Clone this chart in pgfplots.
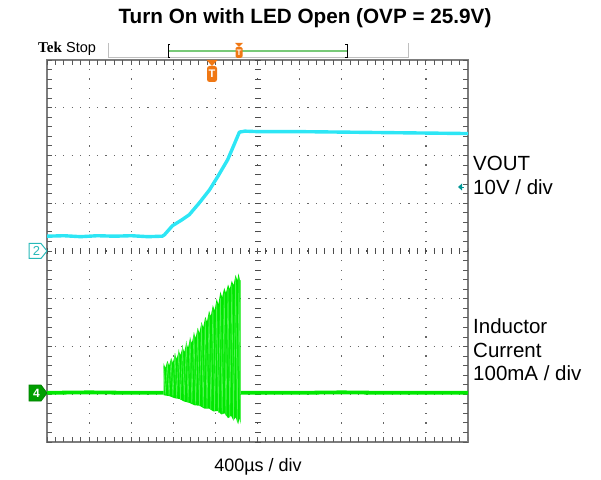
\documentclass[border=0pt]{standalone}
\usepackage{pgfplots}
\pgfplotsset{compat=1.18}
\usepackage{fontspec}
\setmainfont{Liberation Sans}
\newfontfamily\tekfont{Liberation Serif}
\definecolor{scopecyan}{RGB}{45,230,245}
\definecolor{scopegreen}{RGB}{0,232,0}
\definecolor{scopegreenL}{RGB}{80,245,80}
\definecolor{scopeorange}{RGB}{240,120,20}
\definecolor{bordergray}{RGB}{125,125,125}
\definecolor{refteal}{RGB}{0,150,150}
\definecolor{ch2teal}{RGB}{40,185,185}
\begin{document}
\begin{tikzpicture}[x=1pt,y=1pt]
\path (0,0) rectangle (601,479);
\begin{axis}[at={(47pt,37pt)}, anchor=south west, scale only axis,
  width=421pt, height=382pt,
  xmin=-5, xmax=5, ymin=-4, ymax=4,
  axis line style={draw=bordergray, line width=2.8pt},
  ticks=none,
  clip=true]
% grid dots
\pgfplotsinvokeforeach{-4,-3,-2,-1,1,2,3,4}{
  \draw[black!60, line width=1.2pt, dash pattern=on 1.2pt off 8.35pt, dash phase=0.6pt]
    (axis cs:#1,-4) -- (axis cs:#1,4);
}
\pgfplotsinvokeforeach{-3,-2,-1,1,2,3}{
  \draw[black!60, line width=1.2pt, dash pattern=on 1.2pt off 7.22pt, dash phase=0.6pt]
    (axis cs:-5,#1) -- (axis cs:5,#1);
}
% border ticks (inward)
\draw[black!65, line width=5pt, dash pattern=on 0.9pt off 7.52pt, dash phase=0.45pt] ([yshift=-2.5pt]axis cs:-5,4) -- ([yshift=-2.5pt]axis cs:5,4);
\draw[black!65, line width=5pt, dash pattern=on 0.9pt off 7.52pt, dash phase=0.45pt] ([yshift=2.5pt]axis cs:-5,-4) -- ([yshift=2.5pt]axis cs:5,-4);
\draw[black!65, line width=5pt, dash pattern=on 0.9pt off 8.65pt, dash phase=0.45pt] ([xshift=-2.5pt]axis cs:5,-4) -- ([xshift=-2.5pt]axis cs:5,4);
\draw[black!65, line width=5pt, dash pattern=on 0.9pt off 8.65pt, dash phase=0.45pt] ([xshift=2.5pt]axis cs:-5,-4) -- ([xshift=2.5pt]axis cs:-5,4);
% center crosshair with ticks
\draw[black!70, line width=1.2pt, dash pattern=on 1.2pt off 7.22pt, dash phase=0.6pt] (axis cs:-5,0) -- (axis cs:5,0);
\draw[black!70, line width=1.2pt, dash pattern=on 1.2pt off 8.35pt, dash phase=0.6pt] (axis cs:0,-4) -- (axis cs:0,4);
\draw[black!70, line width=6pt, dash pattern=on 0.9pt off 7.52pt, dash phase=0.45pt] (axis cs:-5,0) -- (axis cs:5,0);
\draw[black!70, line width=6pt, dash pattern=on 0.9pt off 8.65pt, dash phase=0.45pt] (axis cs:0,-4) -- (axis cs:0,4);

% VOUT trace (CH2)
\addplot[scopecyan, line width=3.4pt, line join=round] coordinates {
(-5,0.31) (-4.6,0.32) (-4.2,0.30) (-3.8,0.32) (-3.4,0.31) (-3.0,0.32) (-2.6,0.30) (-2.26,0.31)
(-2.21,0.34) (-2.10,0.45) (-2.02,0.53) (-1.80,0.65) (-1.62,0.76) (-1.38,1.01) (-1.14,1.28)
(-0.95,1.55) (-0.71,1.91) (-0.55,2.24) (-0.43,2.49) (-0.30,2.51) (0,2.50) (1,2.50) (2,2.49)
(3,2.48) (4,2.47) (5,2.46)
};

% Inductor current (CH4) baseline
\addplot[scopegreen, line width=3.8pt] coordinates {
(-5,-2.97) (-4,-2.96) (-3,-2.97) (-2.23,-2.97)
};
\addplot[scopegreen, line width=3.8pt] coordinates {
(-0.40,-2.97) (1,-2.97) (2,-2.96) (3,-2.97) (5,-2.97)
};
% burst envelope
\addplot[draw=none, fill=scopegreen] coordinates {
(-2.23,-2.97) (-2.23,-2.35) (-2.19,-2.45) (-2.14,-2.30) (-2.10,-2.40) (-2.05,-2.24) (-2.01,-2.34)
(-1.96,-2.16) (-1.92,-2.26) (-1.87,-2.09) (-1.83,-2.18) (-1.78,-2.01) (-1.74,-2.12) (-1.69,-1.92)
(-1.65,-2.03) (-1.60,-1.82) (-1.56,-1.93) (-1.51,-1.72) (-1.47,-1.82) (-1.42,-1.61) (-1.38,-1.72)
(-1.33,-1.49) (-1.29,-1.60) (-1.24,-1.38) (-1.20,-1.48) (-1.15,-1.25) (-1.11,-1.37) (-1.06,-1.13)
(-1.02,-1.25) (-0.97,-1.00) (-0.93,-1.12) (-0.88,-0.85) (-0.84,-0.97) (-0.79,-0.77) (-0.75,-0.88)
(-0.70,-0.70) (-0.66,-0.80) (-0.61,-0.62) (-0.57,-0.72) (-0.52,-0.50) (-0.48,-0.62) (-0.45,-0.47)
(-0.42,-0.60) (-0.40,-0.62)
(-0.40,-3.62) (-0.43,-3.50) (-0.46,-3.63) (-0.52,-3.48) (-0.57,-3.55) (-0.63,-3.45) (-0.70,-3.50)
(-0.78,-3.40) (-0.86,-3.42) (-0.95,-3.35) (-1.05,-3.36) (-1.15,-3.30) (-1.26,-3.30) (-1.38,-3.24)
(-1.50,-3.23) (-1.62,-3.18) (-1.75,-3.15) (-1.85,-3.10) (-1.98,-3.08) (-2.09,-3.04) (-2.23,-3.02)
} -- cycle;
% burst oscillation streaks
\addplot[scopegreenL, line width=0.6pt] coordinates {
(-2.23,-2.40) (-2.19,-3.00) (-2.14,-2.34) (-2.10,-3.03) (-2.05,-2.26) (-2.01,-3.05)
(-1.96,-2.14) (-1.92,-3.08) (-1.87,-2.06) (-1.83,-3.11) (-1.78,-1.97) (-1.74,-3.13)
(-1.69,-1.88) (-1.65,-3.16) (-1.60,-1.80) (-1.56,-3.19) (-1.51,-1.70) (-1.47,-3.21)
(-1.42,-1.62) (-1.38,-3.25) (-1.33,-1.52) (-1.29,-3.27) (-1.24,-1.42) (-1.20,-3.29)
(-1.15,-1.31) (-1.11,-3.32) (-1.06,-1.20) (-1.02,-3.35) (-0.97,-1.09) (-0.93,-3.39)
(-0.88,-0.99) (-0.84,-3.42) (-0.79,-0.89) (-0.75,-3.45) (-0.70,-0.80) (-0.66,-3.49)
(-0.61,-0.70) (-0.57,-3.54) (-0.52,-0.56) (-0.48,-3.58) (-0.44,-0.55) (-0.41,-3.58)
};
\end{axis}

% title
\node[font=\fontsize{20.7}{24}\selectfont\bfseries] at (305,461) {Turn On with LED Open (OVP = 25.9V)};

% Tek Stop
\node[anchor=base west, inner sep=0pt, font=\tekfont\fontsize{15}{17}\selectfont\bfseries] at (38,426.5) {Tek};
\node[anchor=base west, inner sep=0pt, font=\fontsize{14.5}{17}\selectfont] at (66,426.5) {Stop};

% record bar
\draw[black!25, line width=1pt] (108,436) -- (108,421) -- (408,421) -- (408,436);
\draw[scopegreen!50!gray!70, line width=1.6pt] (168,428) -- (347,428);
\draw[black, line width=0.8pt] (170,435) -- (168,435) -- (168,422) -- (170,422);
\draw[black, line width=0.8pt] (345,435) -- (347,435) -- (347,422) -- (345,422);
\fill[scopeorange] (235,436) -- (243,436) -- (239,432) -- cycle;
\fill[scopeorange, rounded corners=1.5pt] (235.5,421) rectangle (242.5,432);
\node[white, font=\fontsize{8}{8}\selectfont\bfseries, inner sep=0pt] at (239,426.5) {T};

% trigger position marker
\fill[scopeorange] (206.5,419) -- (217.5,419) -- (212,413) -- cycle;
\fill[scopeorange, rounded corners=2.5pt] (207,397) rectangle (217,413);
\node[white, font=\fontsize{11}{11}\selectfont\bfseries, inner sep=0pt] at (212,405) {T};

% CH2 ground marker
\draw[ch2teal, line width=1pt, fill=white] (29,235.5) -- (41,235.5) -- (47,228) -- (41,220.5) -- (29,220.5) -- cycle;
\node[ch2teal, font=\fontsize{13}{13}\selectfont, inner sep=0pt] at (36.5,228) {2};

% CH4 ground marker
\draw[green!50!black, line width=0.8pt, fill=green!62!black] (29,94) -- (41,94) -- (47,86) -- (41,78) -- (29,78) -- cycle;
\node[white, font=\fontsize{12}{12}\selectfont\bfseries, inner sep=0pt] at (36.5,86) {4};

% ref arrow on right
\fill[refteal] (458,292) -- (462,295.5) -- (462,288.5) -- cycle;
\draw[refteal, line width=0.9pt] (461,292) -- (464,292);

% right labels
\node[anchor=west, inner sep=0pt, font=\fontsize{20.5}{24}\selectfont] at (473,316) {VOUT};
\node[anchor=west, inner sep=0pt, font=\fontsize{20.5}{24}\selectfont] at (473,292) {10V / div};
\node[anchor=west, inner sep=0pt, font=\fontsize{20.5}{24}\selectfont] at (473,153) {Inductor};
\node[anchor=west, inner sep=0pt, font=\fontsize{20.5}{24}\selectfont] at (473,129) {Current};
\node[anchor=west, inner sep=0pt, font=\fontsize{20.5}{24}\selectfont] at (473,106) {100mA / div};

% bottom label
\node[font=\fontsize{18}{22}\selectfont] at (258,12) {400µs / div};
\end{tikzpicture}
\end{document}
